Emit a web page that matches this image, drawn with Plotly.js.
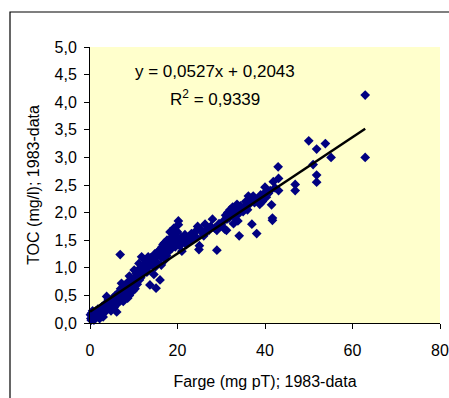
<!DOCTYPE html>
<html>
<head>
<meta charset="utf-8">
<script src="https://cdn.plot.ly/plotly-3.0.1.min.js"></script>
<style>html,body{margin:0;padding:0;background:#fff;}#chart{width:449px;height:398px;}</style>
</head>
<body>
<div id="chart"></div>
<script>
// Farge (mg pT) values, 1983-data
const farge = [
  0.2,0.5,0.8,1.0,1.2,0.3,1.5,2.0,2.5,3.0,0.6,1.8,
  3.5,3.8,4.2,4.5,5.0,5.5,5.2,6.1,4.0,6.0,
  6.5,7.0,7.3,7.6,8.0,8.2,8.5,8.8,9.0,9.2,9.5,9.8,10.0,7.8,8.6,6.9,
  10.1,10.5,10.8,11.0,11.3,11.5,11.8,12.0,12.3,12.6,12.9,13.2,13.5,13.7,13.9,12.5,11.2,
  14.2,14.5,14.8,15.1,15.3,15.6,15.8,16.0,16.2,16.5,16.8,17.0,17.3,17.6,17.8,18.0,18.3,18.5,15.0,16.3,17.2,18.8,
  19.0,19.3,19.6,19.9,20.2,20.2,20.5,20.8,21.0,21.3,21.7,22.0,19.2,18.7,
  22.5,23.0,23.5,24.0,24.3,24.9,25.0,25.3,25.8,26.3,26.8,27.2,27.6,28.0,24.6,
  28.5,29.0,29.0,29.5,30.0,30.5,31.0,31.2,31.5,31.8,32.0,32.3,32.6,33.0,33.3,33.6,34.0,34.1,34.4,34.8,32.8,33.8,30.8,
  35.2,35.6,36.0,36.4,36.8,37.0,37.3,37.6,38.1,38.5,39.0,39.4,40.0,40.3,40.8,41.2,41.5,41.7,41.7,41.9,42.3,36.2,
  43.0,43.1,43.1,46.9,46.9,50.0,51.0,51.8,51.8,51.8,53.8,55.1,62.9,62.9,
  0.1,0.4,0.9,1.4,2.2,2.8,3.2,4.8,5.8,6.3,6.7,7.2,7.5,8.3,9.0,9.6,10.3,10.6,11.6,12.2,
  13.0,13.3,14.0,14.6,15.4,16.7,17.5,18.2,19.5,20.0,21.5,23.2,26.0,29.8,31.3,33.1,35.0,38.8,39.8
];
// TOC (mg/l) values, 1983-data
const toc = [
  0.08,0.12,0.15,0.10,0.18,0.05,0.13,0.15,0.20,0.11,0.22,0.25,
  0.35,0.48,0.42,0.30,0.38,0.28,0.45,0.20,0.25,0.40,
  0.55,0.62,0.48,0.39,0.55,0.70,0.60,0.75,0.50,0.65,0.80,0.58,0.72,0.68,0.45,1.24,
  0.96,0.85,0.70,0.92,0.78,1.00,1.20,0.88,1.05,0.95,1.12,1.00,1.10,0.69,1.18,1.15,1.08,
  1.05,1.15,1.25,0.63,1.10,1.30,1.31,0.78,1.20,1.38,1.25,1.45,1.35,1.50,1.28,1.40,1.65,1.48,1.02,1.05,1.15,1.55,
  1.62,1.45,1.58,1.50,1.85,1.78,1.40,1.55,1.30,1.48,1.60,1.42,1.72,1.35,
  1.55,1.50,1.60,1.65,1.55,1.33,1.40,1.70,1.62,1.79,1.70,1.68,1.75,1.88,1.75,
  1.72,1.68,1.32,1.80,1.78,1.85,1.95,1.68,2.00,1.90,2.05,1.98,2.10,1.92,2.08,2.15,1.98,1.58,2.12,2.05,1.80,1.85,1.70,
  2.10,2.20,2.05,2.15,2.25,1.79,2.30,2.18,1.62,2.25,2.32,2.20,2.46,2.28,2.35,2.40,2.14,1.90,1.86,2.56,2.45,2.30,
  2.83,2.62,2.40,2.51,2.40,3.30,2.87,3.15,2.68,2.55,3.25,3.00,4.13,3.00,
  0.15,0.18,0.05,0.22,0.08,0.30,0.18,0.22,0.50,0.35,0.42,0.72,0.58,0.52,0.85,0.68,0.62,0.90,0.82,0.98,
  0.92,1.20,1.12,0.88,1.22,1.42,1.22,1.52,1.38,1.65,1.50,1.62,1.58,1.75,1.88,2.00,2.02,2.15,2.35
];
// Linear trendline from the chart's equation
const slope = 0.0527;
const intercept = 0.2043;
const trendX = [0, Math.max(...farge)];
const trendY = trendX.map(v => slope * v + intercept);

const xTickVals = [0, 20, 40, 60, 80];
const yTickVals = [0, 0.5, 1, 1.5, 2, 2.5, 3, 3.5, 4, 4.5, 5];

const FONT = 'Liberation Sans, Arial, sans-serif';

const data = [
  {
    type: 'scatter', mode: 'markers', x: farge, y: toc,
    marker: {symbol: 'diamond', size: 7.5, color: '#000080', line: {width: 0}},
    cliponaxis: false, hoverinfo: 'x+y', showlegend: false
  },
  {
    type: 'scatter', mode: 'lines', x: trendX, y: trendY,
    line: {color: '#000000', width: 2.5}, showlegend: false
  }
];

const layout = {
  width: 449, height: 398,
  margin: {l: 90, r: 9, t: 47, b: 75, pad: 0},
  paper_bgcolor: '#ffffff',
  plot_bgcolor: '#FFFFCC',
  separators: ', ',
  font: {family: FONT, size: 16, color: '#000000'},
  showlegend: false,
  xaxis: {
    range: [0, 80], tickvals: xTickVals, tickformat: 'd',
    showline: true, linecolor: '#000', linewidth: 1,
    ticks: 'outside', ticklen: 5, tickcolor: '#000', tickwidth: 1,
    showgrid: false, zeroline: false, fixedrange: true,
    tickfont: {family: FONT, size: 16, color: '#000'},
    ticklabelstandoff: 8,
    title: {text: 'Farge (mg pT); 1983-data', font: {family: FONT, size: 16, color: '#000'}, standoff: 17}
  },
  yaxis: {
    range: [0, 5], tickvals: yTickVals, tickformat: '.1f',
    showline: true, linecolor: '#000', linewidth: 1,
    ticks: 'outside', ticklen: 5, tickcolor: '#000', tickwidth: 1,
    showgrid: false, zeroline: false, fixedrange: true,
    tickfont: {family: FONT, size: 16, color: '#000'},
    ticklabelstandoff: 4,
    title: {text: 'TOC (mg/l); 1983-data', font: {family: FONT, size: 16, color: '#000'}, standoff: 10}
  },
  annotations: [
    {xref: 'x', yref: 'paper', x: 28.6, y: (323 - 71.7) / 276, text: 'y = 0,0527x + 0,2043',
     showarrow: false, xanchor: 'center', yanchor: 'middle', font: {family: FONT, size: 17, color: '#000'}},
    {xref: 'x', yref: 'paper', x: 28.6, y: (323 - 97.7) / 276, text: 'R<sup>2</sup> = 0,9339',
     showarrow: false, xanchor: 'center', yanchor: 'middle', font: {family: FONT, size: 17, color: '#000'}}
  ],
  shapes: [
    {type: 'rect', xref: 'paper', yref: 'paper', x0: (10 - 90) / 350, x1: (470 - 90) / 350,
     y0: (323 - 420) / 276, y1: (323 - 12) / 276, line: {color: '#000', width: 1.2}, fillcolor: 'rgba(0,0,0,0)', layer: 'below'}
  ]
};

Plotly.newPlot('chart', data, layout, {displayModeBar: false, staticPlot: true});
</script>
</body>
</html>
